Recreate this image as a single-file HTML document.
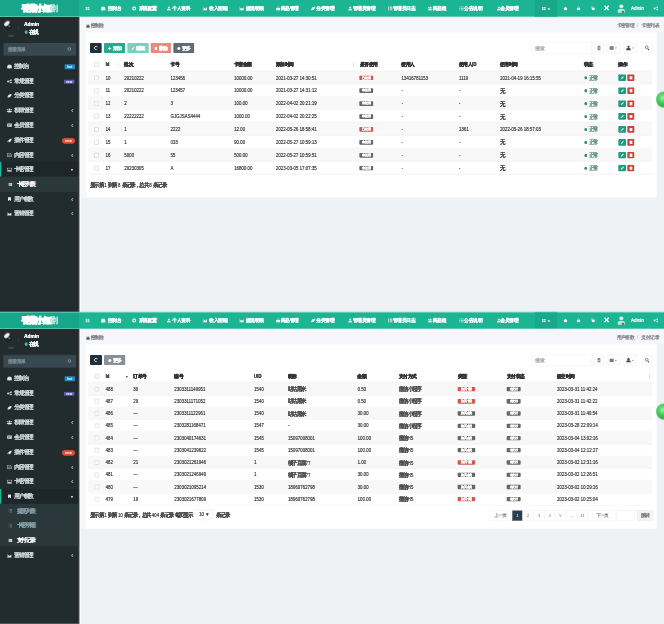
<!DOCTYPE html>
<html><head><meta charset="utf-8"><title>admin</title><style>
html,body{margin:0;padding:0;width:664px;height:624px;overflow:hidden;background:#ecf0f5;font-family:"Liberation Sans",sans-serif}
#root{position:absolute;left:0;top:0;width:1992px;height:1872px;transform:scale(0.333333);transform-origin:0 0;overflow:hidden}

*{margin:0;padding:0;box-sizing:border-box}
div{position:absolute}
.t{white-space:nowrap;font-size:13.8px;line-height:18px;transform:translateY(-9px) scaleY(1.06);color:#333;backface-visibility:hidden;text-shadow:0.45px 0 0 currentColor}
.fr{left:0;width:1992px;height:936px;overflow:hidden}
.logo{background:#17a689}
.nav{background:#1bb593}
.nt{color:#fff;font-size:13.5px}
.side{background:#222c2e}
.mt{color:#cfd8dc;font-size:13.8px;--zs:0.75px}
.ic{background:#dfe6e9;border-radius:3px}
.crt{color:#8aa4af;font-size:12px}
.bd{border-radius:3px}
.th{font-weight:bold;color:#333;font-size:13.2px}
.td{color:#4a4a4a;font-size:13.2px;transform:translateY(-8.4px) scaleY(1.1)}
.cb{width:15.6px;height:15.6px;border:1.8px solid #ababab;background:#fff;border-radius:1.5px}
.badge{height:13.8px;border-radius:2.4px;color:#fff;font-size:7.8px;line-height:13.8px;text-align:center;font-weight:bold}
.z{font-style:normal;display:inline-block;width:0.87em;text-align:center;font-size:1.15em;-webkit-text-stroke:var(--zs,0.9px) currentColor}
.in{display:inline-block;backface-visibility:hidden}
.btn{border-radius:3px;color:#fff;font-size:12.6px;line-height:30px;text-align:center;backface-visibility:hidden;text-shadow:0.45px 0 0 currentColor}
</style></head>
<body><div id="root">
<div class="fr" style="top:0px">
<div class="logo" style="left:0px;top:0px;width:237px;height:49.8px;"><div style="left:0;top:0;width:237px;height:49.8px;text-align:center;line-height:52.8px;color:#fff;font-size:21px;white-space:nowrap;--zs:3.9px;backface-visibility:hidden"><b><i class="z">香</i><i class="z">蕉</i><i class="z">小</i><i class="z">短</i></b><span style="font-weight:normal;opacity:.8;--zs:1.2px"><i class="z">剧</i></span></div></div>
<div class="nav" style="left:237px;top:0px;width:1755px;height:49.8px;"></div>
<div style="left:255.6px;top:19.5px;width:13.2px;height:11.4px;color:#e0f6ee"><svg viewBox="0 0 10 8" preserveAspectRatio="none" style="display:block;width:13.2px;height:11.4px" fill="currentColor"><rect x="0.5" y="0.5" width="4" height="3.2"/><rect x="5.5" y="0.5" width="4" height="3.2"/><rect x="0.5" y="4.3" width="4" height="3.2"/><rect x="5.5" y="4.3" width="4" height="3.2"/></svg></div>
<div style="left:302.1px;top:19.2px;width:15px;height:12.6px;color:#eefaf6"><svg viewBox="0 0 10 8" preserveAspectRatio="none" style="display:block;width:15px;height:12.6px" fill="currentColor"><path d="M0.3 7.8 V5.2 A4.7 4.7 0 0 1 9.7 5.2 V7.8 Z" /></svg></div>
<div class="t nt" style="left:323.1px;top:25.8px;"><i class="z">控</i><i class="z">制</i><i class="z">台</i></div>
<div style="left:395.4px;top:19.2px;width:15px;height:12.6px;color:#eefaf6"><svg viewBox="0 0 10 8" preserveAspectRatio="none" style="display:block;width:15px;height:12.6px" fill="currentColor"><circle cx="5" cy="4" r="2.9" fill="none" stroke="currentColor" stroke-width="2.4"/></svg></div>
<div class="t nt" style="left:417px;top:25.8px;"><i class="z">系</i><i class="z">统</i><i class="z">配</i><i class="z">置</i></div>
<div style="left:498.9px;top:19.2px;width:15px;height:12.6px;color:#eefaf6"><svg viewBox="0 0 10 8" preserveAspectRatio="none" style="display:block;width:15px;height:12.6px" fill="currentColor"><circle cx="5" cy="2.2" r="2"/><path d="M1 8 C1 5.2 2.6 4.4 5 4.4 C7.4 4.4 9 5.2 9 8 Z"/></svg></div>
<div class="t nt" style="left:517.5px;top:25.8px;"><i class="z">个</i><i class="z">人</i><i class="z">资</i><i class="z">料</i></div>
<div style="left:608.4px;top:19.2px;width:15px;height:12.6px;color:#eefaf6"><svg viewBox="0 0 10 8" preserveAspectRatio="none" style="display:block;width:15px;height:12.6px" fill="currentColor"><path d="M0.4 0.4 V7.6 H9.6" fill="none" stroke="currentColor" stroke-width="1"/><path d="M1.6 7 V4.6 L3.6 2.6 L5.6 4.4 L8.6 1.4 V7 Z"/></svg></div>
<div class="t nt" style="left:628.5px;top:25.8px;"><i class="z">收</i><i class="z">入</i><i class="z">明</i><i class="z">细</i></div>
<div style="left:717.9px;top:19.2px;width:15px;height:12.6px;color:#eefaf6"><svg viewBox="0 0 10 8" preserveAspectRatio="none" style="display:block;width:15px;height:12.6px" fill="currentColor"><path d="M0.4 0.4 V7.6 H9.6" fill="none" stroke="currentColor" stroke-width="1"/><path d="M1.6 7 V4.6 L3.6 2.6 L5.6 4.4 L8.6 1.4 V7 Z"/></svg></div>
<div class="t nt" style="left:737.4px;top:25.8px;"><i class="z">提</i><i class="z">现</i><i class="z">明</i><i class="z">细</i></div>
<div style="left:826.8px;top:19.2px;width:15px;height:12.6px;color:#eefaf6"><svg viewBox="0 0 10 8" preserveAspectRatio="none" style="display:block;width:15px;height:12.6px" fill="currentColor"><rect x="1" y="3" width="8" height="4.8" rx="0.5"/><path d="M3.2 3.2 V2 A1.8 1.8 0 0 1 6.8 2 V3.2" fill="none" stroke="currentColor" stroke-width="1"/></svg></div>
<div class="t nt" style="left:842.4px;top:25.8px;"><i class="z">商</i><i class="z">品</i><i class="z">管</i><i class="z">理</i></div>
<div style="left:931.8px;top:19.2px;width:15px;height:12.6px;color:#eefaf6"><svg viewBox="0 0 10 8" preserveAspectRatio="none" style="display:block;width:15px;height:12.6px" fill="currentColor"><path d="M0.8 7.6 C1 3 4 0.6 9.4 0.4 C9 5 6 7.6 0.8 7.6 Z"/></svg></div>
<div class="t nt" style="left:949.5px;top:25.8px;"><i class="z">分</i><i class="z">类</i><i class="z">管</i><i class="z">理</i></div>
<div style="left:1043.4px;top:19.2px;width:15px;height:12.6px;color:#eefaf6"><svg viewBox="0 0 10 8" preserveAspectRatio="none" style="display:block;width:15px;height:12.6px" fill="currentColor"><circle cx="5" cy="2.2" r="2"/><path d="M1 8 C1 5.2 2.6 4.4 5 4.4 C7.4 4.4 9 5.2 9 8 Z"/></svg></div>
<div class="t nt" style="left:1059px;top:25.8px;"><i class="z">管</i><i class="z">理</i><i class="z">员</i><i class="z">管</i><i class="z">理</i></div>
<div style="left:1163.4px;top:19.2px;width:15px;height:12.6px;color:#eefaf6"><svg viewBox="0 0 10 8" preserveAspectRatio="none" style="display:block;width:15px;height:12.6px" fill="currentColor"><rect x="0.5" y="0.5" width="9" height="7" /><path d="M0.5 3 H9.5 M0.5 5.4 H9.5 M3.6 0.5 V7.5" stroke="#2a383b" stroke-width="0.7"/></svg></div>
<div class="t nt" style="left:1179px;top:25.8px;"><i class="z">管</i><i class="z">理</i><i class="z">员</i><i class="z">日</i><i class="z">志</i></div>
<div style="left:1283.4px;top:19.2px;width:15px;height:12.6px;color:#eefaf6"><svg viewBox="0 0 10 8" preserveAspectRatio="none" style="display:block;width:15px;height:12.6px" fill="currentColor"><circle cx="5" cy="2" r="1.8"/><path d="M1.6 8 C1.6 5 3 4 5 4 C7 4 8.4 5 8.4 8 Z"/><circle cx="1.6" cy="2.6" r="1.2"/><circle cx="8.4" cy="2.6" r="1.2"/><path d="M0 7 C0 5 0.6 4.4 1.8 4.4 L1.8 7 Z M10 7 C10 5 9.4 4.4 8.2 4.4 L8.2 7 Z"/></svg></div>
<div class="t nt" style="left:1299px;top:25.8px;"><i class="z">商</i><i class="z">品</i><i class="z">组</i></div>
<div style="left:1377.3px;top:19.2px;width:15px;height:12.6px;color:#eefaf6"><svg viewBox="0 0 10 8" preserveAspectRatio="none" style="display:block;width:15px;height:12.6px" fill="currentColor"><path d="M0.5 1 H2.2 M0.5 4 H2.2 M0.5 7 H2.2 M3.4 1 H9.5 M3.4 4 H9.5 M3.4 7 H9.5" stroke="currentColor" stroke-width="1.3"/></svg></div>
<div class="t nt" style="left:1392.9px;top:25.8px;"><i class="z">公</i><i class="z">告</i><i class="z">说</i><i class="z">明</i></div>
<div style="left:1488.9px;top:19.2px;width:15px;height:12.6px;color:#eefaf6"><svg viewBox="0 0 10 8" preserveAspectRatio="none" style="display:block;width:15px;height:12.6px" fill="currentColor"><circle cx="5" cy="2.2" r="2"/><path d="M1 8 C1 5.2 2.6 4.4 5 4.4 C7.4 4.4 9 5.2 9 8 Z"/></svg></div>
<div class="t nt" style="left:1501.2px;top:25.8px;"><i class="z">会</i><i class="z">员</i><i class="z">管</i><i class="z">理</i></div>
<div class="" style="left:1605px;top:0px;width:66.6px;height:49.8px;background:#18a98b"></div>
<div style="left:1625.4px;top:19.8px;width:12.6px;height:11.4px;color:#e6f7f2"><svg viewBox="0 0 10 8" preserveAspectRatio="none" style="display:block;width:12.6px;height:11.4px" fill="currentColor"><rect x="0.5" y="0.5" width="4" height="3.2"/><rect x="5.5" y="0.5" width="4" height="3.2"/><rect x="0.5" y="4.3" width="4" height="3.2"/><rect x="5.5" y="4.3" width="4" height="3.2"/></svg></div>
<div class="t nt" style="left:1642.8px;top:26.7px;font-size:7.8px">▼</div>
<div style="left:1689.9px;top:18.9px;width:13.2px;height:12.6px;color:#eefaf6"><svg viewBox="0 0 10 8" preserveAspectRatio="none" style="display:block;width:13.2px;height:12.6px" fill="currentColor"><path d="M0.4 4.4 L5 0.4 L9.6 4.4 H8.4 V7.8 H1.6 V4.4 Z"/></svg></div>
<div style="left:1729.2px;top:18.9px;width:13.2px;height:12.6px;color:#eefaf6"><svg viewBox="0 0 10 8" preserveAspectRatio="none" style="display:block;width:13.2px;height:12.6px" fill="currentColor"><rect x="1.4" y="3.4" width="7.2" height="4.4" rx="0.5"/><path d="M3 3.6 V2.4 A2 2 0 0 1 7 2.4 V3.6" fill="none" stroke="currentColor" stroke-width="1.1"/></svg></div>
<div style="left:1771.5px;top:18.9px;width:13.2px;height:12.6px;color:#eefaf6"><svg viewBox="0 0 10 8" preserveAspectRatio="none" style="display:block;width:13.2px;height:12.6px" fill="currentColor"><rect x="3" y="2.4" width="6.2" height="5.4"/><path d="M1 5.6 V0.6 H6.6" fill="none" stroke="currentColor" stroke-width="1"/></svg></div>
<div class="t nt" style="left:1811.7px;top:25.8px;font-size:27px;line-height:27px;transform:translateY(-13.5px);font-weight:bold">×</div>
<div class="" style="left:1858.2px;top:13.2px;width:12px;height:12px;background:#dfe9e6;border-radius:50%"></div>
<div class="" style="left:1853.4px;top:25.8px;width:21.6px;height:12.6px;background:#cfdcd8;border-radius:50% 50% 10% 10%"></div>
<div class="" style="left:1865.4px;top:31.8px;width:7.8px;height:7.2px;background:#3a7d6c;border-radius:50%"></div>
<div class="t nt" style="left:1892.7px;top:25.5px;font-size:13.8px">Admin</div>
<div style="left:1959.6px;top:18.9px;width:15.6px;height:12.6px;color:#e6f7f2"><svg viewBox="0 0 10 8" preserveAspectRatio="none" style="display:block;width:15.6px;height:12.6px" fill="currentColor"><circle cx="8" cy="1.6" r="1.6"/><circle cx="2" cy="4" r="1.6"/><circle cx="8" cy="6.4" r="1.6"/><path d="M8 1.6 L2 4 L8 6.4" stroke-width="1" fill="none" stroke="currentColor"/></svg></div>
<div class="" style="left:237px;top:49.8px;width:1755px;height:886.2px;background:#eff2f5"></div>
<div class="" style="left:237px;top:49.8px;width:1755px;height:45.6px;background:#f5f6fa"></div>
<div class="" style="left:237px;top:94.8px;width:1755px;height:1.5px;background:#e9edf2"></div>
<div class="" style="left:237px;top:49.8px;width:1755px;height:2.1px;background:#e3f7f0"></div>
<div class="" style="left:237.9px;top:49.8px;width:4.5px;height:886.2px;background:#ffffff"></div>
<div class="" style="left:258.6px;top:74.4px;width:10.2px;height:8.4px;background:#555;border-radius:5.1px 5.1px 0 0"></div>
<div class="t" style="left:271.8px;top:77.4px;color:#777;font-size:13.2px;--zs:0.6px"><i class="z">控</i><i class="z">制</i><i class="z">台</i></div>
<div class="t" style="left:1850.1px;top:75.6px;color:#888;font-size:13.2px;--zs:0.45px"><i class="z">卡</i><i class="z">密</i><i class="z">管</i><i class="z">理</i></div>
<div class="t" style="left:1911px;top:75.6px;color:#ccc;font-size:13.2px">/</div>
<div class="t" style="left:1924.2px;top:75.6px;color:#888;font-size:13.2px;--zs:0.45px"><i class="z">卡</i><i class="z">密</i><i class="z">列</i><i class="z">表</i></div>
<div class="" style="left:243px;top:96px;width:1726.5px;height:496.5px;background:#fff"></div>
<div class="" style="left:243px;top:96px;width:15px;height:496.5px;background:#f6f7f7"></div>
<div class="btn" style="left:270.3px;top:129px;width:34.8px;height:30px;background:#22303c"></div>
<div class="" style="left:282px;top:138px;width:12px;height:12px;border:2.4px solid #fff;border-right-color:transparent;border-radius:50%;transform:rotate(20deg)"></div>
<div class="btn" style="left:311.7px;top:129px;width:63px;height:30px;background:#1fae8f"><span class="in"><b style="font-size:18px;vertical-align:top">+</b> <i class="z">添</i><i class="z">加</i></span></div>
<div class="btn" style="left:382.2px;top:129px;width:63.6px;height:30px;background:#78d0bd"><span class="in"><span style="display:inline-block;width:9.6px;height:3px;background:#fff;transform:rotate(-45deg);vertical-align:middle;margin-right:1.8px"></span> <i class="z">编</i><i class="z">辑</i></span></div>
<div class="btn" style="left:451.8px;top:129px;width:62.1px;height:30px;background:#e98a82"><span class="in"><span style="display:inline-block;width:7.2px;height:9px;background:#fff;border-radius:0.9px;vertical-align:middle;margin-right:1.8px"></span> <i class="z">删</i><i class="z">除</i></span></div>
<div class="btn" style="left:520.2px;top:129px;width:63px;height:30px;background:#626a72"><span class="in"><span style="display:inline-block;width:9px;height:9px;border-radius:50%;background:#fff;vertical-align:middle;margin-right:1.8px"></span> <i class="z">更</i><i class="z">多</i></span></div>
<div class="" style="left:1593px;top:127.2px;width:183px;height:33.6px;background:#fff;border:1.5px solid #e8e8e8;border-radius:3px"></div>
<div class="t" style="left:1606.5px;top:144px;color:#aaa;font-size:12.6px;--zs:0.45px"><i class="z">搜</i><i class="z">索</i></div>
<div class="" style="left:1779px;top:127.2px;width:34.2px;height:33.6px;background:#fcfcfc;border:1.5px solid #eeeeee;border-radius:1.8px"></div>
<div class="" style="left:1819.8px;top:127.2px;width:40.8px;height:33.6px;background:#fcfcfc;border:1.5px solid #eeeeee;border-radius:1.8px"></div>
<div class="" style="left:1870.8px;top:127.2px;width:40.8px;height:33.6px;background:#fcfcfc;border:1.5px solid #eeeeee;border-radius:1.8px"></div>
<div class="" style="left:1924.8px;top:127.2px;width:33.9px;height:33.6px;background:#fcfcfc;border:1.5px solid #eeeeee;border-radius:1.8px"></div>
<div class="" style="left:1791.6px;top:137.4px;width:9.6px;height:13.2px;background:#8a8a8a;border-radius:0.9px"></div>
<div class="" style="left:1791.6px;top:143.4px;width:9.6px;height:1.5px;background:#e0e0e0"></div>
<div class="" style="left:1829.4px;top:138.6px;width:11.4px;height:10.8px;background:#7a7a7a;border-radius:0.9px"></div>
<div class="" style="left:1844.4px;top:142.2px;width:6.6px;height:4.2px;background:#666;clip-path:polygon(0 0,100% 0,50% 100%)"></div>
<div class="" style="left:1881.6px;top:136.8px;width:7.2px;height:7.2px;background:#444;border-radius:50%"></div>
<div class="" style="left:1878.6px;top:144px;width:13.2px;height:6.6px;background:#444;border-radius:50% 50% 0.9px 0.9px"></div>
<div class="" style="left:1895.4px;top:142.2px;width:6.6px;height:4.2px;background:#666;clip-path:polygon(0 0,100% 0,50% 100%)"></div>
<div class="" style="left:1935px;top:136.8px;width:10.2px;height:10.2px;border:2.7px solid #555;border-radius:50%"></div>
<div class="" style="left:1942.8px;top:147px;width:5.4px;height:2.7px;background:#555;transform:rotate(45deg)"></div>
<div class="" style="left:264px;top:212.4px;width:1692px;height:1.8px;background:#e4e4e4"></div>
<div class="cb" style="left:282.6px;top:186.6px;width:13.5px;height:13.5px;"></div>
<div class="t th" style="left:316.5px;top:193.5px;">Id</div>
<div class="t th" style="left:372.6px;top:193.5px;"><i class="z">批</i><i class="z">次</i></div>
<div class="t th" style="left:511.2px;top:193.5px;"><i class="z">卡</i><i class="z">号</i></div>
<div class="t th" style="left:702px;top:193.5px;"><i class="z">卡</i><i class="z">密</i><i class="z">金</i><i class="z">额</i></div>
<div class="t th" style="left:827.4px;top:193.5px;"><i class="z">添</i><i class="z">加</i><i class="z">时</i><i class="z">间</i></div>
<div class="t th" style="left:1079.7px;top:193.5px;"><i class="z">是</i><i class="z">否</i><i class="z">使</i><i class="z">用</i></div>
<div class="t th" style="left:1204.2px;top:193.5px;"><i class="z">使</i><i class="z">用</i><i class="z">人</i></div>
<div class="t th" style="left:1376.7px;top:193.5px;"><i class="z">使</i><i class="z">用</i><i class="z">人</i>ID</div>
<div class="t th" style="left:1500px;top:193.5px;"><i class="z">使</i><i class="z">用</i><i class="z">时</i><i class="z">间</i></div>
<div class="t th" style="left:1752px;top:193.5px;"><i class="z">状</i><i class="z">态</i></div>
<div class="t th" style="left:1855.2px;top:193.5px;"><i class="z">操</i><i class="z">作</i></div>
<div class="" style="left:353.7px;top:187.5px;width:1.5px;height:12px;background:#ccc"></div>
<div class="" style="left:1059.3px;top:187.5px;width:1.5px;height:12px;background:#ccc"></div>
<div class="" style="left:264px;top:213px;width:1692px;height:38.7px;background:#f8f8f8"></div>
<div class="" style="left:264px;top:250.2px;width:1692px;height:1.5px;background:#efefef"></div>
<div class="cb" style="left:282.6px;top:226.8px;width:13.5px;height:13.5px;"></div>
<div class="t td" style="left:316.5px;top:233.55px;">10</div>
<div class="t td" style="left:372.6px;top:233.55px;">20210222</div>
<div class="t td" style="left:511.2px;top:233.55px;">123456</div>
<div class="t td" style="left:702px;top:233.55px;">10000.00</div>
<div class="t td" style="left:827.4px;top:233.55px;">2021-03-27 14:30:51</div>
<div class="badge" style="left:1077.6px;top:226.65px;width:42.9px;height:13.8px;background:#d9534f"><span class="in"><i class="z">已</i><i class="z">使</i><i class="z">用</i></span></div>
<div class="t td" style="left:1204.2px;top:233.55px;">13416781153</div>
<div class="t td" style="left:1376.7px;top:233.55px;">1119</div>
<div class="t td" style="left:1500px;top:233.55px;">2021-04-19 16:15:55</div>
<div class="" style="left:1752.6px;top:228.75px;width:9.6px;height:9.6px;background:#2f8f78;border-radius:50%"></div>
<div class="t td" style="left:1766.4px;top:233.55px;color:#5b8c80;--zs:0.45px"><i class="z">正</i><i class="z">常</i></div>
<div class="" style="left:1854.9px;top:223.35px;width:23.4px;height:19.8px;background:#1c9c83;border-radius:2.4px"></div>
<div class="" style="left:1862.4px;top:232.05px;width:9.6px;height:3px;background:#fff;transform:rotate(-45deg)"></div>
<div class="" style="left:1882.2px;top:223.35px;width:20.4px;height:19.8px;background:#c9443a;border-radius:2.4px"></div>
<div class="" style="left:1888.8px;top:228.75px;width:7.8px;height:9.6px;background:#fff"></div>
<div class="" style="left:264px;top:288.9px;width:1692px;height:1.5px;background:#efefef"></div>
<div class="cb" style="left:282.6px;top:265.5px;width:13.5px;height:13.5px;"></div>
<div class="t td" style="left:316.5px;top:272.25px;">11</div>
<div class="t td" style="left:372.6px;top:272.25px;">20210222</div>
<div class="t td" style="left:511.2px;top:272.25px;">123457</div>
<div class="t td" style="left:702px;top:272.25px;">10000.00</div>
<div class="t td" style="left:827.4px;top:272.25px;">2021-03-27 14:31:12</div>
<div class="badge" style="left:1077.6px;top:265.35px;width:42.9px;height:13.8px;background:#666"><span class="in"><i class="z">未</i><i class="z">使</i><i class="z">用</i></span></div>
<div class="t td" style="left:1204.2px;top:272.25px;">-</div>
<div class="t td" style="left:1376.7px;top:272.25px;">-</div>
<div class="t td" style="left:1500px;top:272.25px;"><i class="z">无</i></div>
<div class="" style="left:1752.6px;top:267.45px;width:9.6px;height:9.6px;background:#2f8f78;border-radius:50%"></div>
<div class="t td" style="left:1766.4px;top:272.25px;color:#5b8c80;--zs:0.45px"><i class="z">正</i><i class="z">常</i></div>
<div class="" style="left:1854.9px;top:262.05px;width:23.4px;height:19.8px;background:#1c9c83;border-radius:2.4px"></div>
<div class="" style="left:1862.4px;top:270.75px;width:9.6px;height:3px;background:#fff;transform:rotate(-45deg)"></div>
<div class="" style="left:1882.2px;top:262.05px;width:20.4px;height:19.8px;background:#c9443a;border-radius:2.4px"></div>
<div class="" style="left:1888.8px;top:267.45px;width:7.8px;height:9.6px;background:#fff"></div>
<div class="" style="left:264px;top:290.4px;width:1692px;height:38.7px;background:#f8f8f8"></div>
<div class="" style="left:264px;top:327.6px;width:1692px;height:1.5px;background:#efefef"></div>
<div class="cb" style="left:282.6px;top:304.2px;width:13.5px;height:13.5px;"></div>
<div class="t td" style="left:316.5px;top:310.95px;">12</div>
<div class="t td" style="left:372.6px;top:310.95px;">2</div>
<div class="t td" style="left:511.2px;top:310.95px;">3</div>
<div class="t td" style="left:702px;top:310.95px;">100.00</div>
<div class="t td" style="left:827.4px;top:310.95px;">2022-04-02 20:21:19</div>
<div class="badge" style="left:1077.6px;top:304.05px;width:42.9px;height:13.8px;background:#666"><span class="in"><i class="z">未</i><i class="z">使</i><i class="z">用</i></span></div>
<div class="t td" style="left:1204.2px;top:310.95px;">-</div>
<div class="t td" style="left:1376.7px;top:310.95px;">-</div>
<div class="t td" style="left:1500px;top:310.95px;"><i class="z">无</i></div>
<div class="" style="left:1752.6px;top:306.15px;width:9.6px;height:9.6px;background:#2f8f78;border-radius:50%"></div>
<div class="t td" style="left:1766.4px;top:310.95px;color:#5b8c80;--zs:0.45px"><i class="z">正</i><i class="z">常</i></div>
<div class="" style="left:1854.9px;top:300.75px;width:23.4px;height:19.8px;background:#1c9c83;border-radius:2.4px"></div>
<div class="" style="left:1862.4px;top:309.45px;width:9.6px;height:3px;background:#fff;transform:rotate(-45deg)"></div>
<div class="" style="left:1882.2px;top:300.75px;width:20.4px;height:19.8px;background:#c9443a;border-radius:2.4px"></div>
<div class="" style="left:1888.8px;top:306.15px;width:7.8px;height:9.6px;background:#fff"></div>
<div class="" style="left:264px;top:366.3px;width:1692px;height:1.5px;background:#efefef"></div>
<div class="cb" style="left:282.6px;top:342.9px;width:13.5px;height:13.5px;"></div>
<div class="t td" style="left:316.5px;top:349.65px;">13</div>
<div class="t td" style="left:372.6px;top:349.65px;">22222222</div>
<div class="t td" style="left:511.2px;top:349.65px;">GJGJSAS4444</div>
<div class="t td" style="left:702px;top:349.65px;">1000.00</div>
<div class="t td" style="left:827.4px;top:349.65px;">2022-04-02 20:22:25</div>
<div class="badge" style="left:1077.6px;top:342.75px;width:42.9px;height:13.8px;background:#666"><span class="in"><i class="z">未</i><i class="z">使</i><i class="z">用</i></span></div>
<div class="t td" style="left:1204.2px;top:349.65px;">-</div>
<div class="t td" style="left:1376.7px;top:349.65px;">-</div>
<div class="t td" style="left:1500px;top:349.65px;"><i class="z">无</i></div>
<div class="" style="left:1752.6px;top:344.85px;width:9.6px;height:9.6px;background:#2f8f78;border-radius:50%"></div>
<div class="t td" style="left:1766.4px;top:349.65px;color:#5b8c80;--zs:0.45px"><i class="z">正</i><i class="z">常</i></div>
<div class="" style="left:1854.9px;top:339.45px;width:23.4px;height:19.8px;background:#1c9c83;border-radius:2.4px"></div>
<div class="" style="left:1862.4px;top:348.15px;width:9.6px;height:3px;background:#fff;transform:rotate(-45deg)"></div>
<div class="" style="left:1882.2px;top:339.45px;width:20.4px;height:19.8px;background:#c9443a;border-radius:2.4px"></div>
<div class="" style="left:1888.8px;top:344.85px;width:7.8px;height:9.6px;background:#fff"></div>
<div class="" style="left:264px;top:367.8px;width:1692px;height:38.7px;background:#f8f8f8"></div>
<div class="" style="left:264px;top:405px;width:1692px;height:1.5px;background:#efefef"></div>
<div class="cb" style="left:282.6px;top:381.6px;width:13.5px;height:13.5px;"></div>
<div class="t td" style="left:316.5px;top:388.35px;">14</div>
<div class="t td" style="left:372.6px;top:388.35px;">1</div>
<div class="t td" style="left:511.2px;top:388.35px;">2222</div>
<div class="t td" style="left:702px;top:388.35px;">12.00</div>
<div class="t td" style="left:827.4px;top:388.35px;">2022-05-26 18:58:41</div>
<div class="badge" style="left:1077.6px;top:381.45px;width:42.9px;height:13.8px;background:#d9534f"><span class="in"><i class="z">已</i><i class="z">使</i><i class="z">用</i></span></div>
<div class="t td" style="left:1204.2px;top:388.35px;">-</div>
<div class="t td" style="left:1376.7px;top:388.35px;">1361</div>
<div class="t td" style="left:1500px;top:388.35px;">2022-05-26 18:57:03</div>
<div class="" style="left:1752.6px;top:383.55px;width:9.6px;height:9.6px;background:#2f8f78;border-radius:50%"></div>
<div class="t td" style="left:1766.4px;top:388.35px;color:#5b8c80;--zs:0.45px"><i class="z">正</i><i class="z">常</i></div>
<div class="" style="left:1854.9px;top:378.15px;width:23.4px;height:19.8px;background:#1c9c83;border-radius:2.4px"></div>
<div class="" style="left:1862.4px;top:386.85px;width:9.6px;height:3px;background:#fff;transform:rotate(-45deg)"></div>
<div class="" style="left:1882.2px;top:378.15px;width:20.4px;height:19.8px;background:#c9443a;border-radius:2.4px"></div>
<div class="" style="left:1888.8px;top:383.55px;width:7.8px;height:9.6px;background:#fff"></div>
<div class="" style="left:264px;top:443.7px;width:1692px;height:1.5px;background:#efefef"></div>
<div class="cb" style="left:282.6px;top:420.3px;width:13.5px;height:13.5px;"></div>
<div class="t td" style="left:316.5px;top:427.05px;">15</div>
<div class="t td" style="left:372.6px;top:427.05px;">1</div>
<div class="t td" style="left:511.2px;top:427.05px;">033</div>
<div class="t td" style="left:702px;top:427.05px;">90.00</div>
<div class="t td" style="left:827.4px;top:427.05px;">2022-05-27 10:59:13</div>
<div class="badge" style="left:1077.6px;top:420.15px;width:42.9px;height:13.8px;background:#666"><span class="in"><i class="z">未</i><i class="z">使</i><i class="z">用</i></span></div>
<div class="t td" style="left:1204.2px;top:427.05px;">-</div>
<div class="t td" style="left:1376.7px;top:427.05px;">-</div>
<div class="t td" style="left:1500px;top:427.05px;"><i class="z">无</i></div>
<div class="" style="left:1752.6px;top:422.25px;width:9.6px;height:9.6px;background:#2f8f78;border-radius:50%"></div>
<div class="t td" style="left:1766.4px;top:427.05px;color:#5b8c80;--zs:0.45px"><i class="z">正</i><i class="z">常</i></div>
<div class="" style="left:1854.9px;top:416.85px;width:23.4px;height:19.8px;background:#1c9c83;border-radius:2.4px"></div>
<div class="" style="left:1862.4px;top:425.55px;width:9.6px;height:3px;background:#fff;transform:rotate(-45deg)"></div>
<div class="" style="left:1882.2px;top:416.85px;width:20.4px;height:19.8px;background:#c9443a;border-radius:2.4px"></div>
<div class="" style="left:1888.8px;top:422.25px;width:7.8px;height:9.6px;background:#fff"></div>
<div class="" style="left:264px;top:445.2px;width:1692px;height:38.7px;background:#f8f8f8"></div>
<div class="" style="left:264px;top:482.4px;width:1692px;height:1.5px;background:#efefef"></div>
<div class="cb" style="left:282.6px;top:459px;width:13.5px;height:13.5px;"></div>
<div class="t td" style="left:316.5px;top:465.75px;">16</div>
<div class="t td" style="left:372.6px;top:465.75px;">5000</div>
<div class="t td" style="left:511.2px;top:465.75px;">55</div>
<div class="t td" style="left:702px;top:465.75px;">500.00</div>
<div class="t td" style="left:827.4px;top:465.75px;">2022-05-27 10:59:51</div>
<div class="badge" style="left:1077.6px;top:458.85px;width:42.9px;height:13.8px;background:#666"><span class="in"><i class="z">未</i><i class="z">使</i><i class="z">用</i></span></div>
<div class="t td" style="left:1204.2px;top:465.75px;">-</div>
<div class="t td" style="left:1376.7px;top:465.75px;">-</div>
<div class="t td" style="left:1500px;top:465.75px;"><i class="z">无</i></div>
<div class="" style="left:1752.6px;top:460.95px;width:9.6px;height:9.6px;background:#2f8f78;border-radius:50%"></div>
<div class="t td" style="left:1766.4px;top:465.75px;color:#5b8c80;--zs:0.45px"><i class="z">正</i><i class="z">常</i></div>
<div class="" style="left:1854.9px;top:455.55px;width:23.4px;height:19.8px;background:#1c9c83;border-radius:2.4px"></div>
<div class="" style="left:1862.4px;top:464.25px;width:9.6px;height:3px;background:#fff;transform:rotate(-45deg)"></div>
<div class="" style="left:1882.2px;top:455.55px;width:20.4px;height:19.8px;background:#c9443a;border-radius:2.4px"></div>
<div class="" style="left:1888.8px;top:460.95px;width:7.8px;height:9.6px;background:#fff"></div>
<div class="" style="left:264px;top:521.1px;width:1692px;height:1.5px;background:#efefef"></div>
<div class="cb" style="left:282.6px;top:497.7px;width:13.5px;height:13.5px;"></div>
<div class="t td" style="left:316.5px;top:504.45px;">17</div>
<div class="t td" style="left:372.6px;top:504.45px;">20230305</div>
<div class="t td" style="left:511.2px;top:504.45px;">A</div>
<div class="t td" style="left:702px;top:504.45px;">16800.00</div>
<div class="t td" style="left:827.4px;top:504.45px;">2023-03-05 17:07:35</div>
<div class="badge" style="left:1077.6px;top:497.55px;width:42.9px;height:13.8px;background:#666"><span class="in"><i class="z">未</i><i class="z">使</i><i class="z">用</i></span></div>
<div class="t td" style="left:1204.2px;top:504.45px;">-</div>
<div class="t td" style="left:1376.7px;top:504.45px;">-</div>
<div class="t td" style="left:1500px;top:504.45px;"><i class="z">无</i></div>
<div class="" style="left:1752.6px;top:499.65px;width:9.6px;height:9.6px;background:#2f8f78;border-radius:50%"></div>
<div class="t td" style="left:1766.4px;top:504.45px;color:#5b8c80;--zs:0.45px"><i class="z">正</i><i class="z">常</i></div>
<div class="" style="left:1854.9px;top:494.25px;width:23.4px;height:19.8px;background:#1c9c83;border-radius:2.4px"></div>
<div class="" style="left:1862.4px;top:502.95px;width:9.6px;height:3px;background:#fff;transform:rotate(-45deg)"></div>
<div class="" style="left:1882.2px;top:494.25px;width:20.4px;height:19.8px;background:#c9443a;border-radius:2.4px"></div>
<div class="" style="left:1888.8px;top:499.65px;width:7.8px;height:9.6px;background:#fff"></div>
<div class="t td" style="left:269.4px;top:555px;color:#444;--zs:0.9px"><i class="z">显</i><i class="z">示</i><i class="z">第</i> 1 <i class="z">到</i><i class="z">第</i> 8 <i class="z">条</i><i class="z">记</i><i class="z">录</i><i class="z">，</i><i class="z">总</i><i class="z">共</i> 8 <i class="z">条</i><i class="z">记</i><i class="z">录</i></div>
<div class="" style="left:1969.2px;top:275.4px;width:46.2px;height:46.2px;background:radial-gradient(circle at 42% 40%,#9af5a4 0,#45d35e 35%,#28b048 65%,#2b7d55 100%);border-radius:50%;box-shadow:0 0 2.4px rgba(0,40,20,.5)"></div>
<div class="side" style="left:0px;top:49.8px;width:234.9px;height:886.2px;"></div>
<div class="" style="left:234.9px;top:49.8px;width:3px;height:886.2px;background:#020405"></div>
<div class="" style="left:7.8px;top:60.6px;width:32.4px;height:32.4px;background:#1b2326;border-radius:50%;box-shadow:inset 0 0 0 1.5px #3b474c"></div>
<div class="" style="left:11.4px;top:65.4px;width:18.6px;height:10.8px;background:#eef3f4;border-radius:50% 50% 40% 40%;transform:rotate(-40deg)"></div>
<div class="" style="left:24.6px;top:76.2px;width:6px;height:3px;background:#aab4b8;border-radius:1.5px"></div>
<div class="" style="left:25.2px;top:106.2px;width:15.6px;height:2.7px;background:#5d686d"></div>
<div class="" style="left:54.6px;top:78px;width:1.8px;height:12px;background:#4a565b"></div>
<div class="t" style="left:72px;top:72.6px;color:#fff;font-weight:bold;font-size:14.4px">Admin</div>
<div class="" style="left:73.8px;top:91.2px;width:9.6px;height:9.6px;background:#3fd0a0;border-radius:50%"></div>
<div class="t" style="left:85.8px;top:96px;color:#fff;font-size:13.8px"><i class="z">在</i><i class="z">线</i></div>
<div class="" style="left:9.9px;top:128.7px;width:218.1px;height:38.1px;background:#374850;border-radius:1.5px"></div>
<div class="t" style="left:24px;top:147.9px;color:#76868d;font-size:13.2px"><i class="z">搜</i><i class="z">索</i><i class="z">菜</i><i class="z">单</i></div>
<div class="" style="left:203.4px;top:142.2px;width:9.6px;height:9.6px;border:2.1px solid #a9b5ba;border-radius:50%"></div>
<div class="" style="left:0px;top:485.1px;width:234.6px;height:45.3px;background:#1d2729"></div>
<div class="" style="left:0px;top:485.1px;width:3.6px;height:45.3px;background:#18bc9c"></div>
<div class="" style="left:0px;top:530.4px;width:234.6px;height:45.6px;background:#2a383b"></div>
<div style="left:24.6px;top:548.1px;width:12.6px;height:10.8px;color:#e8eef0"><svg viewBox="0 0 10 8" preserveAspectRatio="none" style="display:block;width:12.6px;height:10.8px" fill="currentColor"><rect x="0.5" y="0.5" width="9" height="7" /><path d="M0.5 3 H9.5 M0.5 5.4 H9.5 M3.6 0.5 V7.5" stroke="#2a383b" stroke-width="0.7"/></svg></div>
<div class="t mt" style="left:49.8px;top:553.5px;color:#fff"><i class="z">卡</i><i class="z">密</i><i class="z">列</i><i class="z">表</i></div>
<div style="left:21px;top:193.2px;width:15px;height:12.6px;color:#e3e9ec"><svg viewBox="0 0 10 8" preserveAspectRatio="none" style="display:block;width:15px;height:12.6px" fill="currentColor"><path d="M0.3 7.8 V5.2 A4.7 4.7 0 0 1 9.7 5.2 V7.8 Z" /></svg></div>
<div class="t mt" style="left:43.2px;top:199.5px;"><i class="z">控</i><i class="z">制</i><i class="z">台</i></div>
<div style="left:21px;top:237.6px;width:15px;height:12.6px;color:#e3e9ec"><svg viewBox="0 0 10 8" preserveAspectRatio="none" style="display:block;width:15px;height:12.6px" fill="currentColor"><circle cx="8" cy="1.6" r="1.6"/><circle cx="2" cy="4" r="1.6"/><circle cx="8" cy="6.4" r="1.6"/><path d="M8 1.6 L2 4 L8 6.4" stroke-width="1" fill="none" stroke="currentColor"/></svg></div>
<div class="t mt" style="left:43.2px;top:243.9px;"><i class="z">常</i><i class="z">规</i><i class="z">管</i><i class="z">理</i></div>
<div style="left:21px;top:280.5px;width:15px;height:12.6px;color:#e3e9ec"><svg viewBox="0 0 10 8" preserveAspectRatio="none" style="display:block;width:15px;height:12.6px" fill="currentColor"><path d="M0.8 7.6 C1 3 4 0.6 9.4 0.4 C9 5 6 7.6 0.8 7.6 Z"/></svg></div>
<div class="t mt" style="left:43.2px;top:286.8px;"><i class="z">分</i><i class="z">类</i><i class="z">管</i><i class="z">理</i></div>
<div style="left:21px;top:325.2px;width:15px;height:12.6px;color:#e3e9ec"><svg viewBox="0 0 10 8" preserveAspectRatio="none" style="display:block;width:15px;height:12.6px" fill="currentColor"><circle cx="5" cy="2" r="1.8"/><path d="M1.6 8 C1.6 5 3 4 5 4 C7 4 8.4 5 8.4 8 Z"/><circle cx="1.6" cy="2.6" r="1.2"/><circle cx="8.4" cy="2.6" r="1.2"/><path d="M0 7 C0 5 0.6 4.4 1.8 4.4 L1.8 7 Z M10 7 C10 5 9.4 4.4 8.2 4.4 L8.2 7 Z"/></svg></div>
<div class="t mt" style="left:43.2px;top:331.5px;"><i class="z">权</i><i class="z">限</i><i class="z">管</i><i class="z">理</i></div>
<div style="left:21px;top:369.3px;width:15px;height:12.6px;color:#e3e9ec"><svg viewBox="0 0 10 8" preserveAspectRatio="none" style="display:block;width:15px;height:12.6px" fill="currentColor"><rect x="0.5" y="0.8" width="9" height="6.4" rx="0.6"/><path d="M2 3 H8 M2 5 H6" stroke="#222c2e" stroke-width="0.9"/></svg></div>
<div class="t mt" style="left:43.2px;top:375.6px;"><i class="z">会</i><i class="z">员</i><i class="z">管</i><i class="z">理</i></div>
<div style="left:21px;top:414.9px;width:15px;height:12.6px;color:#e3e9ec"><svg viewBox="0 0 10 8" preserveAspectRatio="none" style="display:block;width:15px;height:12.6px" fill="currentColor"><path d="M9.6 0.2 C6 0.6 3.4 2.6 2.4 5 L4.8 7.4 C7.4 6.4 9.2 3.8 9.6 0.2 Z M2 5.6 L0.2 6.4 L1.6 7.8 L4.2 7.8 Z"/></svg></div>
<div class="t mt" style="left:43.2px;top:421.2px;"><i class="z">插</i><i class="z">件</i><i class="z">管</i><i class="z">理</i></div>
<div style="left:21px;top:459.3px;width:15px;height:12.6px;color:#e3e9ec"><svg viewBox="0 0 10 8" preserveAspectRatio="none" style="display:block;width:15px;height:12.6px" fill="currentColor"><path d="M1.4 0.2 H6.4 L8.6 2.4 V7.8 H1.4 Z" fill="none" stroke="currentColor" stroke-width="1.1"/><path d="M3 4 H7 M3 6 H7" stroke="currentColor" stroke-width="0.8"/></svg></div>
<div class="t mt" style="left:43.2px;top:465.6px;"><i class="z">内</i><i class="z">容</i><i class="z">管</i><i class="z">理</i></div>
<div style="left:21px;top:502.5px;width:15px;height:12.6px;color:#e3e9ec"><svg viewBox="0 0 10 8" preserveAspectRatio="none" style="display:block;width:15px;height:12.6px" fill="currentColor"><rect x="0.4" y="0.6" width="9.2" height="6.8" fill="none" stroke="currentColor" stroke-width="1.1"/><path d="M1.2 6.8 L4 3.6 L6 5.4 L7.2 4.4 L8.8 6.8 Z"/></svg></div>
<div class="t mt" style="left:43.2px;top:508.8px;"><i class="z">卡</i><i class="z">密</i><i class="z">管</i><i class="z">理</i></div>
<div style="left:21px;top:591.3px;width:15px;height:12.6px;color:#e3e9ec"><svg viewBox="0 0 10 8" preserveAspectRatio="none" style="display:block;width:15px;height:12.6px" fill="currentColor"><path d="M2 0.5 H8 V7.5 L5 5.6 L2 7.5 Z"/></svg></div>
<div class="t mt" style="left:43.2px;top:597.6px;"><i class="z">用</i><i class="z">户</i><i class="z">帐</i><i class="z">数</i></div>
<div style="left:21px;top:634.5px;width:15px;height:12.6px;color:#e3e9ec"><svg viewBox="0 0 10 8" preserveAspectRatio="none" style="display:block;width:15px;height:12.6px" fill="currentColor"><path d="M0.4 0.4 V7.6 H9.6" fill="none" stroke="currentColor" stroke-width="1"/><path d="M1.6 7 V4.6 L3.6 2.6 L5.6 4.4 L8.6 1.4 V7 Z"/></svg></div>
<div class="t mt" style="left:43.2px;top:640.8px;"><i class="z">营</i><i class="z">销</i><i class="z">管</i><i class="z">理</i></div>
<div class="" style="left:194.1px;top:192.9px;width:30.9px;height:14.7px;background:#1e88c8;border-radius:2.1px;color:#fff;font-size:10.2px;line-height:14.7px;text-align:center;font-weight:bold"><span class="in">hot</span></div>
<div class="" style="left:192px;top:239.1px;width:31.2px;height:11.7px;background:#605ca8;border-radius:2.1px;color:#fff;font-size:9.6px;line-height:11.7px;text-align:center;font-weight:bold"><span class="in">new</span></div>
<div class="" style="left:186px;top:413.7px;width:39px;height:17.4px;background:#dd4b39;border-radius:9px;color:#fff;font-size:10.2px;line-height:17.4px;text-align:center;font-weight:bold"><span class="in">new</span></div>
<div class="t crt" style="left:213px;top:332.7px;font-size:21px;color:#9fb0b7">‹</div>
<div class="t crt" style="left:213px;top:376.8px;font-size:21px;color:#9fb0b7">‹</div>
<div class="t crt" style="left:213px;top:466.8px;font-size:21px;color:#9fb0b7">‹</div>
<div class="t crt" style="left:213px;top:598.8px;font-size:21px;color:#9fb0b7">‹</div>
<div class="t crt" style="left:213px;top:642px;font-size:21px;color:#9fb0b7">‹</div>
<div class="t crt" style="left:210.9px;top:509.4px;font-size:9.6px;color:#c8d3d8">▼</div>
</div>
<div class="fr" style="top:936px">
<div class="logo" style="left:0px;top:0px;width:237px;height:49.8px;"><div style="left:0;top:0;width:237px;height:49.8px;text-align:center;line-height:52.8px;color:#fff;font-size:21px;white-space:nowrap;--zs:3.9px;backface-visibility:hidden"><b><i class="z">香</i><i class="z">蕉</i><i class="z">小</i><i class="z">短</i></b><span style="font-weight:normal;opacity:.8;--zs:1.2px"><i class="z">剧</i></span></div></div>
<div class="nav" style="left:237px;top:0px;width:1755px;height:49.8px;"></div>
<div style="left:255.6px;top:19.5px;width:13.2px;height:11.4px;color:#e0f6ee"><svg viewBox="0 0 10 8" preserveAspectRatio="none" style="display:block;width:13.2px;height:11.4px" fill="currentColor"><rect x="0.5" y="0.5" width="4" height="3.2"/><rect x="5.5" y="0.5" width="4" height="3.2"/><rect x="0.5" y="4.3" width="4" height="3.2"/><rect x="5.5" y="4.3" width="4" height="3.2"/></svg></div>
<div style="left:302.1px;top:19.2px;width:15px;height:12.6px;color:#eefaf6"><svg viewBox="0 0 10 8" preserveAspectRatio="none" style="display:block;width:15px;height:12.6px" fill="currentColor"><path d="M0.3 7.8 V5.2 A4.7 4.7 0 0 1 9.7 5.2 V7.8 Z" /></svg></div>
<div class="t nt" style="left:323.1px;top:25.8px;"><i class="z">控</i><i class="z">制</i><i class="z">台</i></div>
<div style="left:395.4px;top:19.2px;width:15px;height:12.6px;color:#eefaf6"><svg viewBox="0 0 10 8" preserveAspectRatio="none" style="display:block;width:15px;height:12.6px" fill="currentColor"><circle cx="5" cy="4" r="2.9" fill="none" stroke="currentColor" stroke-width="2.4"/></svg></div>
<div class="t nt" style="left:417px;top:25.8px;"><i class="z">系</i><i class="z">统</i><i class="z">配</i><i class="z">置</i></div>
<div style="left:498.9px;top:19.2px;width:15px;height:12.6px;color:#eefaf6"><svg viewBox="0 0 10 8" preserveAspectRatio="none" style="display:block;width:15px;height:12.6px" fill="currentColor"><circle cx="5" cy="2.2" r="2"/><path d="M1 8 C1 5.2 2.6 4.4 5 4.4 C7.4 4.4 9 5.2 9 8 Z"/></svg></div>
<div class="t nt" style="left:517.5px;top:25.8px;"><i class="z">个</i><i class="z">人</i><i class="z">资</i><i class="z">料</i></div>
<div style="left:608.4px;top:19.2px;width:15px;height:12.6px;color:#eefaf6"><svg viewBox="0 0 10 8" preserveAspectRatio="none" style="display:block;width:15px;height:12.6px" fill="currentColor"><path d="M0.4 0.4 V7.6 H9.6" fill="none" stroke="currentColor" stroke-width="1"/><path d="M1.6 7 V4.6 L3.6 2.6 L5.6 4.4 L8.6 1.4 V7 Z"/></svg></div>
<div class="t nt" style="left:628.5px;top:25.8px;"><i class="z">收</i><i class="z">入</i><i class="z">明</i><i class="z">细</i></div>
<div style="left:717.9px;top:19.2px;width:15px;height:12.6px;color:#eefaf6"><svg viewBox="0 0 10 8" preserveAspectRatio="none" style="display:block;width:15px;height:12.6px" fill="currentColor"><path d="M0.4 0.4 V7.6 H9.6" fill="none" stroke="currentColor" stroke-width="1"/><path d="M1.6 7 V4.6 L3.6 2.6 L5.6 4.4 L8.6 1.4 V7 Z"/></svg></div>
<div class="t nt" style="left:737.4px;top:25.8px;"><i class="z">提</i><i class="z">现</i><i class="z">明</i><i class="z">细</i></div>
<div style="left:826.8px;top:19.2px;width:15px;height:12.6px;color:#eefaf6"><svg viewBox="0 0 10 8" preserveAspectRatio="none" style="display:block;width:15px;height:12.6px" fill="currentColor"><rect x="1" y="3" width="8" height="4.8" rx="0.5"/><path d="M3.2 3.2 V2 A1.8 1.8 0 0 1 6.8 2 V3.2" fill="none" stroke="currentColor" stroke-width="1"/></svg></div>
<div class="t nt" style="left:842.4px;top:25.8px;"><i class="z">商</i><i class="z">品</i><i class="z">管</i><i class="z">理</i></div>
<div style="left:931.8px;top:19.2px;width:15px;height:12.6px;color:#eefaf6"><svg viewBox="0 0 10 8" preserveAspectRatio="none" style="display:block;width:15px;height:12.6px" fill="currentColor"><path d="M0.8 7.6 C1 3 4 0.6 9.4 0.4 C9 5 6 7.6 0.8 7.6 Z"/></svg></div>
<div class="t nt" style="left:949.5px;top:25.8px;"><i class="z">分</i><i class="z">类</i><i class="z">管</i><i class="z">理</i></div>
<div style="left:1043.4px;top:19.2px;width:15px;height:12.6px;color:#eefaf6"><svg viewBox="0 0 10 8" preserveAspectRatio="none" style="display:block;width:15px;height:12.6px" fill="currentColor"><circle cx="5" cy="2.2" r="2"/><path d="M1 8 C1 5.2 2.6 4.4 5 4.4 C7.4 4.4 9 5.2 9 8 Z"/></svg></div>
<div class="t nt" style="left:1059px;top:25.8px;"><i class="z">管</i><i class="z">理</i><i class="z">员</i><i class="z">管</i><i class="z">理</i></div>
<div style="left:1163.4px;top:19.2px;width:15px;height:12.6px;color:#eefaf6"><svg viewBox="0 0 10 8" preserveAspectRatio="none" style="display:block;width:15px;height:12.6px" fill="currentColor"><rect x="0.5" y="0.5" width="9" height="7" /><path d="M0.5 3 H9.5 M0.5 5.4 H9.5 M3.6 0.5 V7.5" stroke="#2a383b" stroke-width="0.7"/></svg></div>
<div class="t nt" style="left:1179px;top:25.8px;"><i class="z">管</i><i class="z">理</i><i class="z">员</i><i class="z">日</i><i class="z">志</i></div>
<div style="left:1283.4px;top:19.2px;width:15px;height:12.6px;color:#eefaf6"><svg viewBox="0 0 10 8" preserveAspectRatio="none" style="display:block;width:15px;height:12.6px" fill="currentColor"><circle cx="5" cy="2" r="1.8"/><path d="M1.6 8 C1.6 5 3 4 5 4 C7 4 8.4 5 8.4 8 Z"/><circle cx="1.6" cy="2.6" r="1.2"/><circle cx="8.4" cy="2.6" r="1.2"/><path d="M0 7 C0 5 0.6 4.4 1.8 4.4 L1.8 7 Z M10 7 C10 5 9.4 4.4 8.2 4.4 L8.2 7 Z"/></svg></div>
<div class="t nt" style="left:1299px;top:25.8px;"><i class="z">商</i><i class="z">品</i><i class="z">组</i></div>
<div style="left:1377.3px;top:19.2px;width:15px;height:12.6px;color:#eefaf6"><svg viewBox="0 0 10 8" preserveAspectRatio="none" style="display:block;width:15px;height:12.6px" fill="currentColor"><path d="M0.5 1 H2.2 M0.5 4 H2.2 M0.5 7 H2.2 M3.4 1 H9.5 M3.4 4 H9.5 M3.4 7 H9.5" stroke="currentColor" stroke-width="1.3"/></svg></div>
<div class="t nt" style="left:1392.9px;top:25.8px;"><i class="z">公</i><i class="z">告</i><i class="z">说</i><i class="z">明</i></div>
<div style="left:1488.9px;top:19.2px;width:15px;height:12.6px;color:#eefaf6"><svg viewBox="0 0 10 8" preserveAspectRatio="none" style="display:block;width:15px;height:12.6px" fill="currentColor"><circle cx="5" cy="2.2" r="2"/><path d="M1 8 C1 5.2 2.6 4.4 5 4.4 C7.4 4.4 9 5.2 9 8 Z"/></svg></div>
<div class="t nt" style="left:1501.2px;top:25.8px;"><i class="z">会</i><i class="z">员</i><i class="z">管</i><i class="z">理</i></div>
<div class="" style="left:1605px;top:0px;width:66.6px;height:49.8px;background:#18a98b"></div>
<div style="left:1625.4px;top:19.8px;width:12.6px;height:11.4px;color:#e6f7f2"><svg viewBox="0 0 10 8" preserveAspectRatio="none" style="display:block;width:12.6px;height:11.4px" fill="currentColor"><rect x="0.5" y="0.5" width="4" height="3.2"/><rect x="5.5" y="0.5" width="4" height="3.2"/><rect x="0.5" y="4.3" width="4" height="3.2"/><rect x="5.5" y="4.3" width="4" height="3.2"/></svg></div>
<div class="t nt" style="left:1642.8px;top:26.7px;font-size:7.8px">▼</div>
<div style="left:1689.9px;top:18.9px;width:13.2px;height:12.6px;color:#eefaf6"><svg viewBox="0 0 10 8" preserveAspectRatio="none" style="display:block;width:13.2px;height:12.6px" fill="currentColor"><path d="M0.4 4.4 L5 0.4 L9.6 4.4 H8.4 V7.8 H1.6 V4.4 Z"/></svg></div>
<div style="left:1729.2px;top:18.9px;width:13.2px;height:12.6px;color:#eefaf6"><svg viewBox="0 0 10 8" preserveAspectRatio="none" style="display:block;width:13.2px;height:12.6px" fill="currentColor"><rect x="1.4" y="3.4" width="7.2" height="4.4" rx="0.5"/><path d="M3 3.6 V2.4 A2 2 0 0 1 7 2.4 V3.6" fill="none" stroke="currentColor" stroke-width="1.1"/></svg></div>
<div style="left:1771.5px;top:18.9px;width:13.2px;height:12.6px;color:#eefaf6"><svg viewBox="0 0 10 8" preserveAspectRatio="none" style="display:block;width:13.2px;height:12.6px" fill="currentColor"><rect x="3" y="2.4" width="6.2" height="5.4"/><path d="M1 5.6 V0.6 H6.6" fill="none" stroke="currentColor" stroke-width="1"/></svg></div>
<div class="t nt" style="left:1811.7px;top:25.8px;font-size:27px;line-height:27px;transform:translateY(-13.5px);font-weight:bold">×</div>
<div class="" style="left:1858.2px;top:13.2px;width:12px;height:12px;background:#dfe9e6;border-radius:50%"></div>
<div class="" style="left:1853.4px;top:25.8px;width:21.6px;height:12.6px;background:#cfdcd8;border-radius:50% 50% 10% 10%"></div>
<div class="" style="left:1865.4px;top:31.8px;width:7.8px;height:7.2px;background:#3a7d6c;border-radius:50%"></div>
<div class="t nt" style="left:1892.7px;top:25.5px;font-size:13.8px">Admin</div>
<div style="left:1959.6px;top:18.9px;width:15.6px;height:12.6px;color:#e6f7f2"><svg viewBox="0 0 10 8" preserveAspectRatio="none" style="display:block;width:15.6px;height:12.6px" fill="currentColor"><circle cx="8" cy="1.6" r="1.6"/><circle cx="2" cy="4" r="1.6"/><circle cx="8" cy="6.4" r="1.6"/><path d="M8 1.6 L2 4 L8 6.4" stroke-width="1" fill="none" stroke="currentColor"/></svg></div>
<div class="" style="left:237px;top:49.8px;width:1755px;height:886.2px;background:#eff2f5"></div>
<div class="" style="left:237px;top:49.8px;width:1755px;height:45.6px;background:#f5f6fa"></div>
<div class="" style="left:237px;top:94.8px;width:1755px;height:1.5px;background:#e9edf2"></div>
<div class="" style="left:237px;top:49.8px;width:1755px;height:2.1px;background:#e3f7f0"></div>
<div class="" style="left:237.9px;top:49.8px;width:4.5px;height:886.2px;background:#ffffff"></div>
<div class="" style="left:258.6px;top:74.4px;width:10.2px;height:8.4px;background:#555;border-radius:5.1px 5.1px 0 0"></div>
<div class="t" style="left:271.8px;top:77.4px;color:#777;font-size:13.2px;--zs:0.6px"><i class="z">控</i><i class="z">制</i><i class="z">台</i></div>
<div class="t" style="left:1850.1px;top:75.9px;color:#888;font-size:13.2px;--zs:0.45px"><i class="z">用</i><i class="z">户</i><i class="z">帐</i><i class="z">数</i></div>
<div class="t" style="left:1911px;top:75.9px;color:#ccc;font-size:13.2px">/</div>
<div class="t" style="left:1924.2px;top:75.9px;color:#888;font-size:13.2px;--zs:0.45px"><i class="z">支</i><i class="z">付</i><i class="z">记</i><i class="z">录</i></div>
<div class="" style="left:243px;top:96px;width:1726.5px;height:553.8px;background:#fff"></div>
<div class="" style="left:243px;top:96px;width:15px;height:553.8px;background:#f6f7f7"></div>
<div class="btn" style="left:270.3px;top:129.3px;width:35.7px;height:30px;background:#22303c"></div>
<div class="" style="left:282.3px;top:138.3px;width:12px;height:12px;border:2.4px solid #fff;border-right-color:transparent;border-radius:50%;transform:rotate(20deg)"></div>
<div class="btn" style="left:312.3px;top:129.3px;width:64.2px;height:30px;background:#8a9095"><span class="in"><span style="display:inline-block;width:9px;height:9px;border-radius:50%;background:#fff;vertical-align:middle;margin-right:1.8px"></span> <i class="z">更</i><i class="z">多</i></span></div>
<div class="" style="left:1593px;top:128.1px;width:183px;height:33.6px;background:#fff;border:1.5px solid #e8e8e8;border-radius:3px"></div>
<div class="t" style="left:1606.5px;top:144.9px;color:#aaa;font-size:12.6px;--zs:0.45px"><i class="z">搜</i><i class="z">索</i></div>
<div class="" style="left:1779px;top:128.1px;width:34.2px;height:33.6px;background:#fcfcfc;border:1.5px solid #eeeeee;border-radius:1.8px"></div>
<div class="" style="left:1819.8px;top:128.1px;width:40.8px;height:33.6px;background:#fcfcfc;border:1.5px solid #eeeeee;border-radius:1.8px"></div>
<div class="" style="left:1870.8px;top:128.1px;width:40.8px;height:33.6px;background:#fcfcfc;border:1.5px solid #eeeeee;border-radius:1.8px"></div>
<div class="" style="left:1924.8px;top:128.1px;width:33.9px;height:33.6px;background:#fcfcfc;border:1.5px solid #eeeeee;border-radius:1.8px"></div>
<div class="" style="left:1791.6px;top:138.3px;width:9.6px;height:13.2px;background:#8a8a8a;border-radius:0.9px"></div>
<div class="" style="left:1791.6px;top:144.3px;width:9.6px;height:1.5px;background:#e0e0e0"></div>
<div class="" style="left:1829.4px;top:139.5px;width:11.4px;height:10.8px;background:#7a7a7a;border-radius:0.9px"></div>
<div class="" style="left:1844.4px;top:143.1px;width:6.6px;height:4.2px;background:#666;clip-path:polygon(0 0,100% 0,50% 100%)"></div>
<div class="" style="left:1881.6px;top:137.7px;width:7.2px;height:7.2px;background:#444;border-radius:50%"></div>
<div class="" style="left:1878.6px;top:144.9px;width:13.2px;height:6.6px;background:#444;border-radius:50% 50% 0.9px 0.9px"></div>
<div class="" style="left:1895.4px;top:143.1px;width:6.6px;height:4.2px;background:#666;clip-path:polygon(0 0,100% 0,50% 100%)"></div>
<div class="" style="left:1935px;top:137.7px;width:10.2px;height:10.2px;border:2.7px solid #555;border-radius:50%"></div>
<div class="" style="left:1942.8px;top:147.9px;width:5.4px;height:2.7px;background:#555;transform:rotate(45deg)"></div>
<div class="" style="left:264px;top:210.9px;width:1692px;height:1.8px;background:#e4e4e4"></div>
<div class="cb" style="left:283.8px;top:185.85px;width:13.5px;height:13.5px;"></div>
<div class="t th" style="left:316.5px;top:192.6px;">Id</div>
<div class="t th" style="left:399.6px;top:192.6px;"><i class="z">订</i><i class="z">单</i><i class="z">号</i></div>
<div class="t th" style="left:522.6px;top:192.6px;"><i class="z">编</i><i class="z">号</i></div>
<div class="t th" style="left:761.7px;top:192.6px;">UID</div>
<div class="t th" style="left:863.7px;top:192.6px;"><i class="z">昵</i><i class="z">称</i></div>
<div class="t th" style="left:1072.5px;top:192.6px;"><i class="z">金</i><i class="z">额</i></div>
<div class="t th" style="left:1196.4px;top:192.6px;"><i class="z">支</i><i class="z">付</i><i class="z">方</i><i class="z">式</i></div>
<div class="t th" style="left:1374px;top:192.6px;"><i class="z">类</i><i class="z">型</i></div>
<div class="t th" style="left:1520.4px;top:192.6px;"><i class="z">支</i><i class="z">付</i><i class="z">状</i><i class="z">态</i></div>
<div class="t th" style="left:1670.7px;top:192.6px;"><i class="z">提</i><i class="z">交</i><i class="z">时</i><i class="z">间</i></div>
<div class="" style="left:378px;top:191.7px;width:4.8px;height:4.8px;background:#555"></div>
<div class="" style="left:1947px;top:188.1px;width:2.4px;height:9px;background:#bbb"></div>
<div class="" style="left:264px;top:212.94px;width:1692px;height:36.72px;background:#f8f8f8"></div>
<div class="" style="left:264px;top:248.16px;width:1692px;height:1.5px;background:#efefef"></div>
<div class="cb" style="left:283.8px;top:224.55px;width:13.5px;height:13.5px;"></div>
<div class="t td" style="left:316.5px;top:231.3px;">488</div>
<div class="t td" style="left:399.6px;top:231.3px;">30</div>
<div class="t td" style="left:522.6px;top:231.3px;">2303311149951</div>
<div class="t td" style="left:761.7px;top:231.3px;">1540</div>
<div class="t td" style="left:863.7px;top:231.3px;"><i class="z">咕</i><i class="z">咕</i><i class="z">黑</i><i class="z">米</i></div>
<div class="t td" style="left:1072.5px;top:231.3px;">0.50</div>
<div class="t td" style="left:1196.4px;top:231.3px;"><i class="z">微</i><i class="z">信</i><i class="z">小</i><i class="z">程</i><i class="z">序</i></div>
<div class="badge" style="left:1373.4px;top:224.7px;width:52.8px;height:13.2px;background:#d9534f"><span class="in"><i class="z">购</i><i class="z">买</i><i class="z">卡</i><i class="z">密</i></span></div>
<div class="badge" style="left:1520.4px;top:224.7px;width:41.4px;height:13.2px;background:#666"><span class="in"><i class="z">未</i><i class="z">支</i><i class="z">付</i></span></div>
<div class="t td" style="left:1670.7px;top:231.3px;">2023-03-31 11:42:24</div>
<div class="" style="left:264px;top:284.88px;width:1692px;height:1.5px;background:#efefef"></div>
<div class="cb" style="left:283.8px;top:261.27px;width:13.5px;height:13.5px;"></div>
<div class="t td" style="left:316.5px;top:268.02px;">487</div>
<div class="t td" style="left:399.6px;top:268.02px;">29</div>
<div class="t td" style="left:522.6px;top:268.02px;">2303311171052</div>
<div class="t td" style="left:761.7px;top:268.02px;">1540</div>
<div class="t td" style="left:863.7px;top:268.02px;"><i class="z">咕</i><i class="z">咕</i><i class="z">黑</i><i class="z">米</i></div>
<div class="t td" style="left:1072.5px;top:268.02px;">0.50</div>
<div class="t td" style="left:1196.4px;top:268.02px;"><i class="z">微</i><i class="z">信</i><i class="z">小</i><i class="z">程</i><i class="z">序</i></div>
<div class="badge" style="left:1373.4px;top:261.42px;width:52.8px;height:13.2px;background:#d9534f"><span class="in"><i class="z">购</i><i class="z">买</i><i class="z">卡</i><i class="z">密</i></span></div>
<div class="badge" style="left:1520.4px;top:261.42px;width:41.4px;height:13.2px;background:#666"><span class="in"><i class="z">未</i><i class="z">支</i><i class="z">付</i></span></div>
<div class="t td" style="left:1670.7px;top:268.02px;">2023-03-31 11:42:22</div>
<div class="" style="left:264px;top:286.38px;width:1692px;height:36.72px;background:#f8f8f8"></div>
<div class="" style="left:264px;top:321.6px;width:1692px;height:1.5px;background:#efefef"></div>
<div class="cb" style="left:283.8px;top:297.99px;width:13.5px;height:13.5px;"></div>
<div class="t td" style="left:316.5px;top:304.74px;">486</div>
<div class="t td" style="left:399.6px;top:304.74px;">—</div>
<div class="t td" style="left:522.6px;top:304.74px;">2303311122961</div>
<div class="t td" style="left:761.7px;top:304.74px;">1540</div>
<div class="t td" style="left:863.7px;top:304.74px;"><i class="z">咕</i><i class="z">咕</i><i class="z">黑</i><i class="z">米</i></div>
<div class="t td" style="left:1072.5px;top:304.74px;">30.00</div>
<div class="t td" style="left:1196.4px;top:304.74px;"><i class="z">微</i><i class="z">信</i><i class="z">小</i><i class="z">程</i><i class="z">序</i></div>
<div class="badge" style="left:1373.4px;top:298.14px;width:52.8px;height:13.2px;background:#666"><span class="in"><i class="z">购</i><i class="z">买</i><i class="z">会</i><i class="z">员</i></span></div>
<div class="badge" style="left:1520.4px;top:298.14px;width:41.4px;height:13.2px;background:#666"><span class="in"><i class="z">未</i><i class="z">支</i><i class="z">付</i></span></div>
<div class="t td" style="left:1670.7px;top:304.74px;">2023-03-31 11:40:54</div>
<div class="" style="left:264px;top:358.32px;width:1692px;height:1.5px;background:#efefef"></div>
<div class="cb" style="left:283.8px;top:334.71px;width:13.5px;height:13.5px;"></div>
<div class="t td" style="left:316.5px;top:341.46px;">485</div>
<div class="t td" style="left:399.6px;top:341.46px;">—</div>
<div class="t td" style="left:522.6px;top:341.46px;">2303281168471</div>
<div class="t td" style="left:761.7px;top:341.46px;">1547</div>
<div class="t td" style="left:863.7px;top:341.46px;">-</div>
<div class="t td" style="left:1072.5px;top:341.46px;">30.00</div>
<div class="t td" style="left:1196.4px;top:341.46px;"><i class="z">微</i><i class="z">信</i><i class="z">小</i><i class="z">程</i><i class="z">序</i></div>
<div class="badge" style="left:1373.4px;top:334.86px;width:52.8px;height:13.2px;background:#666"><span class="in"><i class="z">购</i><i class="z">买</i><i class="z">会</i><i class="z">员</i></span></div>
<div class="badge" style="left:1520.4px;top:334.86px;width:41.4px;height:13.2px;background:#666"><span class="in"><i class="z">未</i><i class="z">支</i><i class="z">付</i></span></div>
<div class="t td" style="left:1670.7px;top:341.46px;">2023-03-28 22:09:14</div>
<div class="" style="left:264px;top:359.82px;width:1692px;height:36.72px;background:#f8f8f8"></div>
<div class="" style="left:264px;top:395.04px;width:1692px;height:1.5px;background:#efefef"></div>
<div class="cb" style="left:283.8px;top:371.43px;width:13.5px;height:13.5px;"></div>
<div class="t td" style="left:316.5px;top:378.18px;">484</div>
<div class="t td" style="left:399.6px;top:378.18px;">—</div>
<div class="t td" style="left:522.6px;top:378.18px;">2303040174631</div>
<div class="t td" style="left:761.7px;top:378.18px;">1545</div>
<div class="t td" style="left:863.7px;top:378.18px;">15097008001</div>
<div class="t td" style="left:1072.5px;top:378.18px;">100.00</div>
<div class="t td" style="left:1196.4px;top:378.18px;"><i class="z">微</i><i class="z">信</i>H5</div>
<div class="badge" style="left:1373.4px;top:371.58px;width:52.8px;height:13.2px;background:#666"><span class="in"><i class="z">购</i><i class="z">买</i><i class="z">会</i><i class="z">员</i></span></div>
<div class="badge" style="left:1520.4px;top:371.58px;width:41.4px;height:13.2px;background:#666"><span class="in"><i class="z">未</i><i class="z">支</i><i class="z">付</i></span></div>
<div class="t td" style="left:1670.7px;top:378.18px;">2023-03-04 13:02:16</div>
<div class="" style="left:264px;top:431.76px;width:1692px;height:1.5px;background:#efefef"></div>
<div class="cb" style="left:283.8px;top:408.15px;width:13.5px;height:13.5px;"></div>
<div class="t td" style="left:316.5px;top:414.9px;">483</div>
<div class="t td" style="left:399.6px;top:414.9px;">—</div>
<div class="t td" style="left:522.6px;top:414.9px;">2303041239622</div>
<div class="t td" style="left:761.7px;top:414.9px;">1545</div>
<div class="t td" style="left:863.7px;top:414.9px;">15097008001</div>
<div class="t td" style="left:1072.5px;top:414.9px;">100.00</div>
<div class="t td" style="left:1196.4px;top:414.9px;"><i class="z">微</i><i class="z">信</i>H5</div>
<div class="badge" style="left:1373.4px;top:408.3px;width:52.8px;height:13.2px;background:#666"><span class="in"><i class="z">购</i><i class="z">买</i><i class="z">会</i><i class="z">员</i></span></div>
<div class="badge" style="left:1520.4px;top:408.3px;width:41.4px;height:13.2px;background:#666"><span class="in"><i class="z">未</i><i class="z">支</i><i class="z">付</i></span></div>
<div class="t td" style="left:1670.7px;top:414.9px;">2023-03-04 12:12:27</div>
<div class="" style="left:264px;top:433.26px;width:1692px;height:36.72px;background:#f8f8f8"></div>
<div class="" style="left:264px;top:468.48px;width:1692px;height:1.5px;background:#efefef"></div>
<div class="cb" style="left:283.8px;top:444.87px;width:13.5px;height:13.5px;"></div>
<div class="t td" style="left:316.5px;top:451.62px;">482</div>
<div class="t td" style="left:399.6px;top:451.62px;">21</div>
<div class="t td" style="left:522.6px;top:451.62px;">2303021261946</div>
<div class="t td" style="left:761.7px;top:451.62px;">1</div>
<div class="t td" style="left:863.7px;top:451.62px;"><i class="z">橘</i><i class="z">子</i><i class="z">豆</i><i class="z">腐</i>77</div>
<div class="t td" style="left:1072.5px;top:451.62px;">1.00</div>
<div class="t td" style="left:1196.4px;top:451.62px;"><i class="z">微</i><i class="z">信</i>H5</div>
<div class="badge" style="left:1373.4px;top:445.02px;width:52.8px;height:13.2px;background:#d9534f"><span class="in"><i class="z">购</i><i class="z">买</i><i class="z">卡</i><i class="z">密</i></span></div>
<div class="badge" style="left:1520.4px;top:445.02px;width:41.4px;height:13.2px;background:#666"><span class="in"><i class="z">未</i><i class="z">支</i><i class="z">付</i></span></div>
<div class="t td" style="left:1670.7px;top:451.62px;">2023-03-02 12:31:16</div>
<div class="" style="left:264px;top:505.2px;width:1692px;height:1.5px;background:#efefef"></div>
<div class="cb" style="left:283.8px;top:481.59px;width:13.5px;height:13.5px;"></div>
<div class="t td" style="left:316.5px;top:488.34px;">481</div>
<div class="t td" style="left:399.6px;top:488.34px;">—</div>
<div class="t td" style="left:522.6px;top:488.34px;">2303021246949</div>
<div class="t td" style="left:761.7px;top:488.34px;">1</div>
<div class="t td" style="left:863.7px;top:488.34px;"><i class="z">橘</i><i class="z">子</i><i class="z">豆</i><i class="z">腐</i>77</div>
<div class="t td" style="left:1072.5px;top:488.34px;">30.00</div>
<div class="t td" style="left:1196.4px;top:488.34px;"><i class="z">微</i><i class="z">信</i>H5</div>
<div class="badge" style="left:1373.4px;top:481.74px;width:52.8px;height:13.2px;background:#666"><span class="in"><i class="z">购</i><i class="z">买</i><i class="z">会</i><i class="z">员</i></span></div>
<div class="badge" style="left:1520.4px;top:481.74px;width:41.4px;height:13.2px;background:#666"><span class="in"><i class="z">未</i><i class="z">支</i><i class="z">付</i></span></div>
<div class="t td" style="left:1670.7px;top:488.34px;">2023-03-02 12:26:51</div>
<div class="" style="left:264px;top:506.7px;width:1692px;height:36.72px;background:#f8f8f8"></div>
<div class="" style="left:264px;top:541.92px;width:1692px;height:1.5px;background:#efefef"></div>
<div class="cb" style="left:283.8px;top:518.31px;width:13.5px;height:13.5px;"></div>
<div class="t td" style="left:316.5px;top:525.06px;">480</div>
<div class="t td" style="left:399.6px;top:525.06px;">—</div>
<div class="t td" style="left:522.6px;top:525.06px;">2303021095214</div>
<div class="t td" style="left:761.7px;top:525.06px;">1530</div>
<div class="t td" style="left:863.7px;top:525.06px;">18960762798</div>
<div class="t td" style="left:1072.5px;top:525.06px;">30.00</div>
<div class="t td" style="left:1196.4px;top:525.06px;"><i class="z">微</i><i class="z">信</i>H5</div>
<div class="badge" style="left:1373.4px;top:518.46px;width:52.8px;height:13.2px;background:#666"><span class="in"><i class="z">购</i><i class="z">买</i><i class="z">会</i><i class="z">员</i></span></div>
<div class="badge" style="left:1520.4px;top:518.46px;width:41.4px;height:13.2px;background:#666"><span class="in"><i class="z">未</i><i class="z">支</i><i class="z">付</i></span></div>
<div class="t td" style="left:1670.7px;top:525.06px;">2023-03-02 10:29:16</div>
<div class="" style="left:264px;top:578.64px;width:1692px;height:1.5px;background:#efefef"></div>
<div class="cb" style="left:283.8px;top:555.03px;width:13.5px;height:13.5px;"></div>
<div class="t td" style="left:316.5px;top:561.78px;">479</div>
<div class="t td" style="left:399.6px;top:561.78px;">19</div>
<div class="t td" style="left:522.6px;top:561.78px;">2303021677809</div>
<div class="t td" style="left:761.7px;top:561.78px;">1530</div>
<div class="t td" style="left:863.7px;top:561.78px;">18960762798</div>
<div class="t td" style="left:1072.5px;top:561.78px;">100.00</div>
<div class="t td" style="left:1196.4px;top:561.78px;"><i class="z">微</i><i class="z">信</i>H5</div>
<div class="badge" style="left:1373.4px;top:555.18px;width:52.8px;height:13.2px;background:#d9534f"><span class="in"><i class="z">购</i><i class="z">买</i><i class="z">卡</i><i class="z">密</i></span></div>
<div class="badge" style="left:1520.4px;top:555.18px;width:41.4px;height:13.2px;background:#666"><span class="in"><i class="z">未</i><i class="z">支</i><i class="z">付</i></span></div>
<div class="t td" style="left:1670.7px;top:561.78px;">2023-03-02 10:25:04</div>
<div class="t td" style="left:269.4px;top:607.5px;color:#444;--zs:0.9px"><i class="z">显</i><i class="z">示</i><i class="z">第</i> 1 <i class="z">到</i><i class="z">第</i> 10 <i class="z">条</i><i class="z">记</i><i class="z">录</i><i class="z">，</i><i class="z">总</i><i class="z">共</i> 404 <i class="z">条</i><i class="z">记</i><i class="z">录</i> <i class="z">每</i><i class="z">页</i><i class="z">显</i><i class="z">示</i></div>
<div class="" style="left:586.5px;top:594px;width:52.5px;height:28.5px;background:#fff;border:1.8px solid #ddd;border-radius:3px"></div>
<div class="t td" style="left:597px;top:608.1px;">10 ▼</div>
<div class="t td" style="left:648px;top:607.5px;color:#444;--zs:0.9px"><i class="z">条</i><i class="z">记</i><i class="z">录</i></div>
<div class="" style="left:1468.2px;top:594.9px;width:64.8px;height:31.8px;background:#fff;border:1.5px solid #ececec;color:#777;font-size:12.6px;line-height:30px;text-align:center;--zs:0.36px;backface-visibility:hidden"><span class="in"><i class="z">上</i><i class="z">一</i><i class="z">页</i></span></div>
<div class="" style="left:1535.7px;top:594.9px;width:32.7px;height:31.8px;background:#2c3e50;border:1.5px solid #ececec;color:#fff;font-size:12.6px;line-height:30px;text-align:center;--zs:0.36px;backface-visibility:hidden"><span class="in">1</span></div>
<div class="" style="left:1568.4px;top:594.9px;width:32.7px;height:31.8px;background:#fff;border:1.5px solid #ececec;color:#777;font-size:12.6px;line-height:30px;text-align:center;--zs:0.36px;backface-visibility:hidden"><span class="in">2</span></div>
<div class="" style="left:1601.1px;top:594.9px;width:32.4px;height:31.8px;background:#fff;border:1.5px solid #ececec;color:#777;font-size:12.6px;line-height:30px;text-align:center;--zs:0.36px;backface-visibility:hidden"><span class="in">3</span></div>
<div class="" style="left:1633.5px;top:594.9px;width:31.5px;height:31.8px;background:#fff;border:1.5px solid #ececec;color:#777;font-size:12.6px;line-height:30px;text-align:center;--zs:0.36px;backface-visibility:hidden"><span class="in">4</span></div>
<div class="" style="left:1665px;top:594.9px;width:33px;height:31.8px;background:#fff;border:1.5px solid #ececec;color:#777;font-size:12.6px;line-height:30px;text-align:center;--zs:0.36px;backface-visibility:hidden"><span class="in">5</span></div>
<div class="" style="left:1698px;top:594.9px;width:33px;height:31.8px;background:#fff;border:1.5px solid #ececec;color:#777;font-size:12.6px;line-height:30px;text-align:center;--zs:0.36px;backface-visibility:hidden"><span class="in">...</span></div>
<div class="" style="left:1731px;top:594.9px;width:33px;height:31.8px;background:#fff;border:1.5px solid #ececec;color:#777;font-size:12.6px;line-height:30px;text-align:center;--zs:0.36px;backface-visibility:hidden"><span class="in">41</span></div>
<div class="" style="left:1764px;top:594.9px;width:84px;height:31.8px;background:#fff;border:1.5px solid #ececec;color:#777;font-size:12.6px;line-height:30px;text-align:center;--zs:0.36px;backface-visibility:hidden"><span class="in"><i class="z">下</i><i class="z">一</i><i class="z">页</i></span></div>
<div class="" style="left:1850.4px;top:594.9px;width:52.8px;height:31.8px;background:#fff;border:1.5px solid #e2e2e2"></div>
<div class="" style="left:1911.3px;top:594.9px;width:48.9px;height:31.8px;background:#f4f4f4;border:1.5px solid #e6e6e6;color:#555;font-size:12.6px;line-height:30px;text-align:center;--zs:0.45px;backface-visibility:hidden"><span class="in"><i class="z">跳</i><i class="z">转</i></span></div>
<div class="" style="left:1969.2px;top:275.4px;width:46.2px;height:46.2px;background:radial-gradient(circle at 42% 40%,#9af5a4 0,#45d35e 35%,#28b048 65%,#2b7d55 100%);border-radius:50%;box-shadow:0 0 2.4px rgba(0,40,20,.5)"></div>
<div class="side" style="left:0px;top:49.8px;width:234.9px;height:886.2px;"></div>
<div class="" style="left:234.9px;top:49.8px;width:3px;height:886.2px;background:#020405"></div>
<div class="" style="left:7.8px;top:60.6px;width:32.4px;height:32.4px;background:#1b2326;border-radius:50%;box-shadow:inset 0 0 0 1.5px #3b474c"></div>
<div class="" style="left:11.4px;top:65.4px;width:18.6px;height:10.8px;background:#eef3f4;border-radius:50% 50% 40% 40%;transform:rotate(-40deg)"></div>
<div class="" style="left:24.6px;top:76.2px;width:6px;height:3px;background:#aab4b8;border-radius:1.5px"></div>
<div class="" style="left:25.2px;top:106.2px;width:15.6px;height:2.7px;background:#5d686d"></div>
<div class="" style="left:54.6px;top:78px;width:1.8px;height:12px;background:#4a565b"></div>
<div class="t" style="left:72px;top:72.6px;color:#fff;font-weight:bold;font-size:14.4px">Admin</div>
<div class="" style="left:73.8px;top:91.2px;width:9.6px;height:9.6px;background:#3fd0a0;border-radius:50%"></div>
<div class="t" style="left:85.8px;top:96px;color:#fff;font-size:13.8px"><i class="z">在</i><i class="z">线</i></div>
<div class="" style="left:9.9px;top:128.7px;width:218.1px;height:38.1px;background:#374850;border-radius:1.5px"></div>
<div class="t" style="left:24px;top:147.9px;color:#76868d;font-size:13.2px"><i class="z">搜</i><i class="z">索</i><i class="z">菜</i><i class="z">单</i></div>
<div class="" style="left:203.4px;top:142.2px;width:9.6px;height:9.6px;border:2.1px solid #a9b5ba;border-radius:50%"></div>
<div class="" style="left:0px;top:531px;width:234.6px;height:44.1px;background:#1d2729"></div>
<div class="" style="left:0px;top:531px;width:3.6px;height:44.1px;background:#18bc9c"></div>
<div class="" style="left:0px;top:575.1px;width:234.6px;height:127.8px;background:#2a383b"></div>
<div style="left:24.6px;top:591.3px;width:12.6px;height:10.8px;color:#8aa4af"><svg viewBox="0 0 10 8" preserveAspectRatio="none" style="display:block;width:12.6px;height:10.8px" fill="currentColor"><path d="M0.5 1 H2.2 M0.5 4 H2.2 M0.5 7 H2.2 M3.4 1 H9.5 M3.4 4 H9.5 M3.4 7 H9.5" stroke="currentColor" stroke-width="1.3"/></svg></div>
<div class="t mt" style="left:49.8px;top:596.7px;color:#8aa4af"><i class="z">提</i><i class="z">现</i><i class="z">列</i><i class="z">表</i></div>
<div style="left:24.6px;top:635.7px;width:12.6px;height:10.8px;color:#8aa4af"><svg viewBox="0 0 10 8" preserveAspectRatio="none" style="display:block;width:12.6px;height:10.8px" fill="currentColor"><path d="M0.5 1 H2.2 M0.5 4 H2.2 M0.5 7 H2.2 M3.4 1 H9.5 M3.4 4 H9.5 M3.4 7 H9.5" stroke="currentColor" stroke-width="1.3"/></svg></div>
<div class="t mt" style="left:49.8px;top:641.1px;color:#8aa4af"><i class="z">卡</i><i class="z">密</i><i class="z">明</i><i class="z">细</i></div>
<div style="left:24.6px;top:679.8px;width:12.6px;height:10.8px;color:#fff"><svg viewBox="0 0 10 8" preserveAspectRatio="none" style="display:block;width:12.6px;height:10.8px" fill="currentColor"><rect x="0.5" y="0.5" width="9" height="7" /><path d="M0.5 3 H9.5 M0.5 5.4 H9.5 M3.6 0.5 V7.5" stroke="#2a383b" stroke-width="0.7"/></svg></div>
<div class="t mt" style="left:49.8px;top:685.2px;color:#fff"><i class="z">支</i><i class="z">付</i><i class="z">记</i><i class="z">录</i></div>
<div style="left:21px;top:193.2px;width:15px;height:12.6px;color:#e3e9ec"><svg viewBox="0 0 10 8" preserveAspectRatio="none" style="display:block;width:15px;height:12.6px" fill="currentColor"><path d="M0.3 7.8 V5.2 A4.7 4.7 0 0 1 9.7 5.2 V7.8 Z" /></svg></div>
<div class="t mt" style="left:43.2px;top:199.5px;"><i class="z">控</i><i class="z">制</i><i class="z">台</i></div>
<div style="left:21px;top:237.6px;width:15px;height:12.6px;color:#e3e9ec"><svg viewBox="0 0 10 8" preserveAspectRatio="none" style="display:block;width:15px;height:12.6px" fill="currentColor"><circle cx="8" cy="1.6" r="1.6"/><circle cx="2" cy="4" r="1.6"/><circle cx="8" cy="6.4" r="1.6"/><path d="M8 1.6 L2 4 L8 6.4" stroke-width="1" fill="none" stroke="currentColor"/></svg></div>
<div class="t mt" style="left:43.2px;top:243.9px;"><i class="z">常</i><i class="z">规</i><i class="z">管</i><i class="z">理</i></div>
<div style="left:21px;top:280.5px;width:15px;height:12.6px;color:#e3e9ec"><svg viewBox="0 0 10 8" preserveAspectRatio="none" style="display:block;width:15px;height:12.6px" fill="currentColor"><path d="M0.8 7.6 C1 3 4 0.6 9.4 0.4 C9 5 6 7.6 0.8 7.6 Z"/></svg></div>
<div class="t mt" style="left:43.2px;top:286.8px;"><i class="z">分</i><i class="z">类</i><i class="z">管</i><i class="z">理</i></div>
<div style="left:21px;top:325.2px;width:15px;height:12.6px;color:#e3e9ec"><svg viewBox="0 0 10 8" preserveAspectRatio="none" style="display:block;width:15px;height:12.6px" fill="currentColor"><circle cx="5" cy="2" r="1.8"/><path d="M1.6 8 C1.6 5 3 4 5 4 C7 4 8.4 5 8.4 8 Z"/><circle cx="1.6" cy="2.6" r="1.2"/><circle cx="8.4" cy="2.6" r="1.2"/><path d="M0 7 C0 5 0.6 4.4 1.8 4.4 L1.8 7 Z M10 7 C10 5 9.4 4.4 8.2 4.4 L8.2 7 Z"/></svg></div>
<div class="t mt" style="left:43.2px;top:331.5px;"><i class="z">权</i><i class="z">限</i><i class="z">管</i><i class="z">理</i></div>
<div style="left:21px;top:369.3px;width:15px;height:12.6px;color:#e3e9ec"><svg viewBox="0 0 10 8" preserveAspectRatio="none" style="display:block;width:15px;height:12.6px" fill="currentColor"><rect x="0.5" y="0.8" width="9" height="6.4" rx="0.6"/><path d="M2 3 H8 M2 5 H6" stroke="#222c2e" stroke-width="0.9"/></svg></div>
<div class="t mt" style="left:43.2px;top:375.6px;"><i class="z">会</i><i class="z">员</i><i class="z">管</i><i class="z">理</i></div>
<div style="left:21px;top:414.9px;width:15px;height:12.6px;color:#e3e9ec"><svg viewBox="0 0 10 8" preserveAspectRatio="none" style="display:block;width:15px;height:12.6px" fill="currentColor"><path d="M9.6 0.2 C6 0.6 3.4 2.6 2.4 5 L4.8 7.4 C7.4 6.4 9.2 3.8 9.6 0.2 Z M2 5.6 L0.2 6.4 L1.6 7.8 L4.2 7.8 Z"/></svg></div>
<div class="t mt" style="left:43.2px;top:421.2px;"><i class="z">插</i><i class="z">件</i><i class="z">管</i><i class="z">理</i></div>
<div style="left:21px;top:459.3px;width:15px;height:12.6px;color:#e3e9ec"><svg viewBox="0 0 10 8" preserveAspectRatio="none" style="display:block;width:15px;height:12.6px" fill="currentColor"><path d="M1.4 0.2 H6.4 L8.6 2.4 V7.8 H1.4 Z" fill="none" stroke="currentColor" stroke-width="1.1"/><path d="M3 4 H7 M3 6 H7" stroke="currentColor" stroke-width="0.8"/></svg></div>
<div class="t mt" style="left:43.2px;top:465.6px;"><i class="z">内</i><i class="z">容</i><i class="z">管</i><i class="z">理</i></div>
<div style="left:21px;top:502.5px;width:15px;height:12.6px;color:#e3e9ec"><svg viewBox="0 0 10 8" preserveAspectRatio="none" style="display:block;width:15px;height:12.6px" fill="currentColor"><rect x="0.4" y="0.6" width="9.2" height="6.8" fill="none" stroke="currentColor" stroke-width="1.1"/><path d="M1.2 6.8 L4 3.6 L6 5.4 L7.2 4.4 L8.8 6.8 Z"/></svg></div>
<div class="t mt" style="left:43.2px;top:508.8px;"><i class="z">卡</i><i class="z">密</i><i class="z">管</i><i class="z">理</i></div>
<div style="left:21px;top:547.2px;width:15px;height:12.6px;color:#e3e9ec"><svg viewBox="0 0 10 8" preserveAspectRatio="none" style="display:block;width:15px;height:12.6px" fill="currentColor"><path d="M2 0.5 H8 V7.5 L5 5.6 L2 7.5 Z"/></svg></div>
<div class="t mt" style="left:43.2px;top:553.5px;"><i class="z">用</i><i class="z">户</i><i class="z">帐</i><i class="z">数</i></div>
<div style="left:21px;top:724.5px;width:15px;height:12.6px;color:#e3e9ec"><svg viewBox="0 0 10 8" preserveAspectRatio="none" style="display:block;width:15px;height:12.6px" fill="currentColor"><path d="M0.4 0.4 V7.6 H9.6" fill="none" stroke="currentColor" stroke-width="1"/><path d="M1.6 7 V4.6 L3.6 2.6 L5.6 4.4 L8.6 1.4 V7 Z"/></svg></div>
<div class="t mt" style="left:43.2px;top:730.8px;"><i class="z">营</i><i class="z">销</i><i class="z">管</i><i class="z">理</i></div>
<div class="" style="left:194.1px;top:192.9px;width:30.9px;height:14.7px;background:#1e88c8;border-radius:2.1px;color:#fff;font-size:10.2px;line-height:14.7px;text-align:center;font-weight:bold"><span class="in">hot</span></div>
<div class="" style="left:192px;top:239.1px;width:31.2px;height:11.7px;background:#605ca8;border-radius:2.1px;color:#fff;font-size:9.6px;line-height:11.7px;text-align:center;font-weight:bold"><span class="in">new</span></div>
<div class="" style="left:186px;top:413.7px;width:39px;height:17.4px;background:#dd4b39;border-radius:9px;color:#fff;font-size:10.2px;line-height:17.4px;text-align:center;font-weight:bold"><span class="in">new</span></div>
<div class="t crt" style="left:213px;top:332.7px;font-size:21px;color:#9fb0b7">‹</div>
<div class="t crt" style="left:213px;top:376.8px;font-size:21px;color:#9fb0b7">‹</div>
<div class="t crt" style="left:213px;top:466.8px;font-size:21px;color:#9fb0b7">‹</div>
<div class="t crt" style="left:213px;top:510px;font-size:21px;color:#9fb0b7">‹</div>
<div class="t crt" style="left:213px;top:732px;font-size:21px;color:#9fb0b7">‹</div>
<div class="t crt" style="left:210.9px;top:554.1px;font-size:9.6px;color:#c8d3d8">▼</div>
</div>
</div></body></html>
